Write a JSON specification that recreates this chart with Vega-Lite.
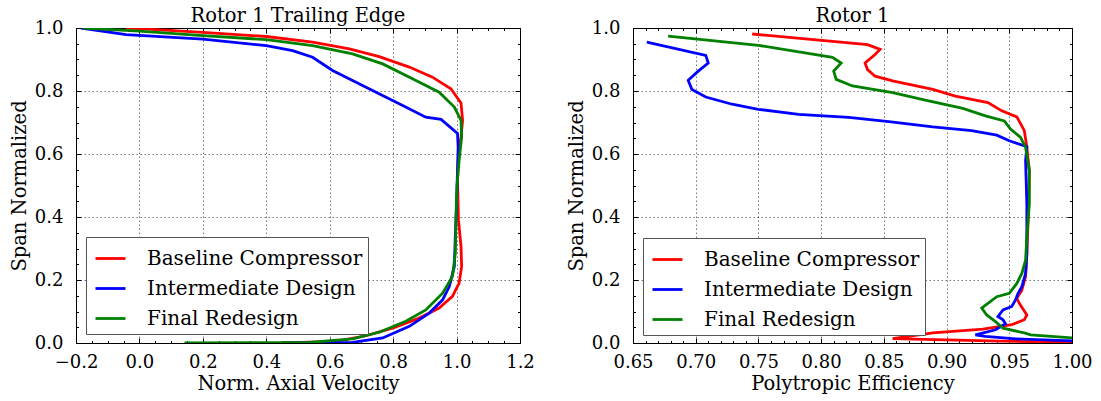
{
  "$schema": "https://vega.github.io/schema/vega-lite/v6.json",
  "background": "white",
  "padding": {"left": 8, "top": 5, "right": 5, "bottom": 5},
  "spacing": 30,
  "config": {
    "font": "DejaVu Serif",
    "view": {"stroke": "black", "strokeWidth": 1},
    "axis": {
      "domain": false,
      "grid": true,
      "gridDash": [1.5, 2.5],
      "gridColor": "black",
      "gridOpacity": 0.6,
      "gridWidth": 0.9,
      "tickColor": "black",
      "tickSize": -5,
      "tickWidth": 1,
      "labelFont": "DejaVu Serif",
      "labelFontSize": 18,
      "labelColor": "black",
      "titleFont": "DejaVu Serif",
      "titleFontSize": 19.5,
      "titleFontWeight": "normal",
      "titleColor": "black",
      "labelOverlap": false,
      "labelFlush": false,
      "labelBound": false
    },
    "title": {"font": "DejaVu Serif", "fontSize": 19.5, "fontWeight": "normal", "color": "black", "offset": -7},
    "legend": {
      "orient": "none",
      "title": null,
      "symbolType": "stroke",
      "symbolSize": 900,
      "symbolStrokeWidth": 2.8,
      "symbolOffset": 3,
      "labelFont": "DejaVu Serif",
      "labelFontSize": 20,
      "labelColor": "black",
      "labelOffset": 20,
      "labelLimit": 400,
      "rowPadding": 3,
      "padding": 5,
      "strokeColor": "#555555",
      "fillColor": "white"
    }
  },
  "resolve": {"scale": {"color": "independent"}, "legend": {"color": "independent"}},
  "datasets": {
    "left": [
      {"s": "Baseline Compressor", "i": 0, "x": -0.043, "y": 1.0},
      {"s": "Baseline Compressor", "i": 1, "x": 0.0, "y": 0.998},
      {"s": "Baseline Compressor", "i": 2, "x": 0.2, "y": 0.986},
      {"s": "Baseline Compressor", "i": 3, "x": 0.4, "y": 0.973},
      {"s": "Baseline Compressor", "i": 4, "x": 0.546, "y": 0.955},
      {"s": "Baseline Compressor", "i": 5, "x": 0.662, "y": 0.934},
      {"s": "Baseline Compressor", "i": 6, "x": 0.756, "y": 0.909},
      {"s": "Baseline Compressor", "i": 7, "x": 0.851, "y": 0.876},
      {"s": "Baseline Compressor", "i": 8, "x": 0.924, "y": 0.844},
      {"s": "Baseline Compressor", "i": 9, "x": 0.982, "y": 0.807},
      {"s": "Baseline Compressor", "i": 10, "x": 1.014, "y": 0.762},
      {"s": "Baseline Compressor", "i": 11, "x": 1.019, "y": 0.707},
      {"s": "Baseline Compressor", "i": 12, "x": 1.014, "y": 0.654},
      {"s": "Baseline Compressor", "i": 13, "x": 1.006, "y": 0.601},
      {"s": "Baseline Compressor", "i": 14, "x": 1.003, "y": 0.517},
      {"s": "Baseline Compressor", "i": 15, "x": 1.006, "y": 0.39},
      {"s": "Baseline Compressor", "i": 16, "x": 1.014, "y": 0.306},
      {"s": "Baseline Compressor", "i": 17, "x": 1.016, "y": 0.243},
      {"s": "Baseline Compressor", "i": 18, "x": 1.008, "y": 0.19},
      {"s": "Baseline Compressor", "i": 19, "x": 0.987, "y": 0.148},
      {"s": "Baseline Compressor", "i": 20, "x": 0.945, "y": 0.111},
      {"s": "Baseline Compressor", "i": 21, "x": 0.882, "y": 0.079},
      {"s": "Baseline Compressor", "i": 22, "x": 0.798, "y": 0.047},
      {"s": "Baseline Compressor", "i": 23, "x": 0.714, "y": 0.023},
      {"s": "Baseline Compressor", "i": 24, "x": 0.62, "y": 0.005},
      {"s": "Baseline Compressor", "i": 25, "x": 0.45, "y": 0.0},
      {"s": "Intermediate Design", "i": 0, "x": -0.184, "y": 1.0},
      {"s": "Intermediate Design", "i": 1, "x": -0.042, "y": 0.979},
      {"s": "Intermediate Design", "i": 2, "x": 0.2, "y": 0.965},
      {"s": "Intermediate Design", "i": 3, "x": 0.4, "y": 0.944},
      {"s": "Intermediate Design", "i": 4, "x": 0.483, "y": 0.928},
      {"s": "Intermediate Design", "i": 5, "x": 0.546, "y": 0.907},
      {"s": "Intermediate Design", "i": 6, "x": 0.609, "y": 0.865},
      {"s": "Intermediate Design", "i": 7, "x": 0.672, "y": 0.833},
      {"s": "Intermediate Design", "i": 8, "x": 0.746, "y": 0.796},
      {"s": "Intermediate Design", "i": 9, "x": 0.83, "y": 0.754},
      {"s": "Intermediate Design", "i": 10, "x": 0.903, "y": 0.717},
      {"s": "Intermediate Design", "i": 11, "x": 0.951, "y": 0.71},
      {"s": "Intermediate Design", "i": 12, "x": 1.003, "y": 0.665},
      {"s": "Intermediate Design", "i": 13, "x": 1.005, "y": 0.622},
      {"s": "Intermediate Design", "i": 14, "x": 1.003, "y": 0.549},
      {"s": "Intermediate Design", "i": 15, "x": 1.0, "y": 0.443},
      {"s": "Intermediate Design", "i": 16, "x": 0.996, "y": 0.338},
      {"s": "Intermediate Design", "i": 17, "x": 0.993, "y": 0.243},
      {"s": "Intermediate Design", "i": 18, "x": 0.977, "y": 0.179},
      {"s": "Intermediate Design", "i": 19, "x": 0.956, "y": 0.137},
      {"s": "Intermediate Design", "i": 20, "x": 0.914, "y": 0.095},
      {"s": "Intermediate Design", "i": 21, "x": 0.851, "y": 0.053},
      {"s": "Intermediate Design", "i": 22, "x": 0.767, "y": 0.016},
      {"s": "Intermediate Design", "i": 23, "x": 0.672, "y": 0.002},
      {"s": "Intermediate Design", "i": 24, "x": 0.45, "y": 0.0},
      {"s": "Final Redesign", "i": 0, "x": -0.179, "y": 1.0},
      {"s": "Final Redesign", "i": 1, "x": 0.0, "y": 0.99},
      {"s": "Final Redesign", "i": 2, "x": 0.2, "y": 0.976},
      {"s": "Final Redesign", "i": 3, "x": 0.4, "y": 0.963},
      {"s": "Final Redesign", "i": 4, "x": 0.546, "y": 0.944},
      {"s": "Final Redesign", "i": 5, "x": 0.672, "y": 0.918},
      {"s": "Final Redesign", "i": 6, "x": 0.767, "y": 0.886},
      {"s": "Final Redesign", "i": 7, "x": 0.861, "y": 0.839},
      {"s": "Final Redesign", "i": 8, "x": 0.945, "y": 0.796},
      {"s": "Final Redesign", "i": 9, "x": 0.993, "y": 0.749},
      {"s": "Final Redesign", "i": 10, "x": 1.014, "y": 0.707},
      {"s": "Final Redesign", "i": 11, "x": 1.016, "y": 0.654},
      {"s": "Final Redesign", "i": 12, "x": 1.008, "y": 0.58},
      {"s": "Final Redesign", "i": 13, "x": 1.001, "y": 0.496},
      {"s": "Final Redesign", "i": 14, "x": 0.998, "y": 0.39},
      {"s": "Final Redesign", "i": 15, "x": 0.996, "y": 0.285},
      {"s": "Final Redesign", "i": 16, "x": 0.987, "y": 0.211},
      {"s": "Final Redesign", "i": 17, "x": 0.956, "y": 0.158},
      {"s": "Final Redesign", "i": 18, "x": 0.903, "y": 0.105},
      {"s": "Final Redesign", "i": 19, "x": 0.84, "y": 0.069},
      {"s": "Final Redesign", "i": 20, "x": 0.756, "y": 0.034},
      {"s": "Final Redesign", "i": 21, "x": 0.672, "y": 0.013},
      {"s": "Final Redesign", "i": 22, "x": 0.536, "y": 0.002},
      {"s": "Final Redesign", "i": 23, "x": 0.142, "y": 0.0}
    ],
    "right": [
      {"s": "Baseline Compressor", "i": 0, "x": 0.745, "y": 0.981},
      {"s": "Baseline Compressor", "i": 1, "x": 0.837, "y": 0.947},
      {"s": "Baseline Compressor", "i": 2, "x": 0.847, "y": 0.932},
      {"s": "Baseline Compressor", "i": 3, "x": 0.843, "y": 0.916},
      {"s": "Baseline Compressor", "i": 4, "x": 0.835, "y": 0.889},
      {"s": "Baseline Compressor", "i": 5, "x": 0.837, "y": 0.868},
      {"s": "Baseline Compressor", "i": 6, "x": 0.843, "y": 0.847},
      {"s": "Baseline Compressor", "i": 7, "x": 0.857, "y": 0.832},
      {"s": "Baseline Compressor", "i": 8, "x": 0.889, "y": 0.805},
      {"s": "Baseline Compressor", "i": 9, "x": 0.907, "y": 0.784},
      {"s": "Baseline Compressor", "i": 10, "x": 0.933, "y": 0.763},
      {"s": "Baseline Compressor", "i": 11, "x": 0.944, "y": 0.737},
      {"s": "Baseline Compressor", "i": 12, "x": 0.956, "y": 0.718},
      {"s": "Baseline Compressor", "i": 13, "x": 0.962, "y": 0.674},
      {"s": "Baseline Compressor", "i": 14, "x": 0.964, "y": 0.621},
      {"s": "Baseline Compressor", "i": 15, "x": 0.966, "y": 0.547},
      {"s": "Baseline Compressor", "i": 16, "x": 0.965, "y": 0.389},
      {"s": "Baseline Compressor", "i": 17, "x": 0.964, "y": 0.284},
      {"s": "Baseline Compressor", "i": 18, "x": 0.963, "y": 0.211},
      {"s": "Baseline Compressor", "i": 19, "x": 0.96, "y": 0.168},
      {"s": "Baseline Compressor", "i": 20, "x": 0.956, "y": 0.142},
      {"s": "Baseline Compressor", "i": 21, "x": 0.958, "y": 0.126},
      {"s": "Baseline Compressor", "i": 22, "x": 0.964, "y": 0.089},
      {"s": "Baseline Compressor", "i": 23, "x": 0.962, "y": 0.074},
      {"s": "Baseline Compressor", "i": 24, "x": 0.952, "y": 0.058},
      {"s": "Baseline Compressor", "i": 25, "x": 0.929, "y": 0.044},
      {"s": "Baseline Compressor", "i": 26, "x": 0.889, "y": 0.032},
      {"s": "Baseline Compressor", "i": 27, "x": 0.857, "y": 0.014},
      {"s": "Baseline Compressor", "i": 28, "x": 0.942, "y": 0.006},
      {"s": "Baseline Compressor", "i": 29, "x": 1.0, "y": 0.002},
      {"s": "Intermediate Design", "i": 0, "x": 0.661, "y": 0.955},
      {"s": "Intermediate Design", "i": 1, "x": 0.708, "y": 0.913},
      {"s": "Intermediate Design", "i": 2, "x": 0.71, "y": 0.889},
      {"s": "Intermediate Design", "i": 3, "x": 0.702, "y": 0.863},
      {"s": "Intermediate Design", "i": 4, "x": 0.694, "y": 0.834},
      {"s": "Intermediate Design", "i": 5, "x": 0.697, "y": 0.805},
      {"s": "Intermediate Design", "i": 6, "x": 0.708, "y": 0.781},
      {"s": "Intermediate Design", "i": 7, "x": 0.729, "y": 0.758},
      {"s": "Intermediate Design", "i": 8, "x": 0.75, "y": 0.742},
      {"s": "Intermediate Design", "i": 9, "x": 0.782, "y": 0.726},
      {"s": "Intermediate Design", "i": 10, "x": 0.822, "y": 0.716},
      {"s": "Intermediate Design", "i": 11, "x": 0.854, "y": 0.703},
      {"s": "Intermediate Design", "i": 12, "x": 0.889, "y": 0.686},
      {"s": "Intermediate Design", "i": 13, "x": 0.92, "y": 0.674},
      {"s": "Intermediate Design", "i": 14, "x": 0.94, "y": 0.66},
      {"s": "Intermediate Design", "i": 15, "x": 0.95, "y": 0.642},
      {"s": "Intermediate Design", "i": 16, "x": 0.964, "y": 0.623},
      {"s": "Intermediate Design", "i": 17, "x": 0.963, "y": 0.579},
      {"s": "Intermediate Design", "i": 18, "x": 0.964, "y": 0.442},
      {"s": "Intermediate Design", "i": 19, "x": 0.964, "y": 0.284},
      {"s": "Intermediate Design", "i": 20, "x": 0.963, "y": 0.221},
      {"s": "Intermediate Design", "i": 21, "x": 0.96, "y": 0.179},
      {"s": "Intermediate Design", "i": 22, "x": 0.957, "y": 0.158},
      {"s": "Intermediate Design", "i": 23, "x": 0.955, "y": 0.137},
      {"s": "Intermediate Design", "i": 24, "x": 0.952, "y": 0.116},
      {"s": "Intermediate Design", "i": 25, "x": 0.945, "y": 0.105},
      {"s": "Intermediate Design", "i": 26, "x": 0.941, "y": 0.084},
      {"s": "Intermediate Design", "i": 27, "x": 0.945, "y": 0.074},
      {"s": "Intermediate Design", "i": 28, "x": 0.947, "y": 0.061},
      {"s": "Intermediate Design", "i": 29, "x": 0.939, "y": 0.042},
      {"s": "Intermediate Design", "i": 30, "x": 0.923, "y": 0.026},
      {"s": "Intermediate Design", "i": 31, "x": 0.931, "y": 0.021},
      {"s": "Intermediate Design", "i": 32, "x": 0.955, "y": 0.013},
      {"s": "Intermediate Design", "i": 33, "x": 1.0, "y": 0.007},
      {"s": "Final Redesign", "i": 0, "x": 0.678, "y": 0.974},
      {"s": "Final Redesign", "i": 1, "x": 0.75, "y": 0.945},
      {"s": "Final Redesign", "i": 2, "x": 0.809, "y": 0.907},
      {"s": "Final Redesign", "i": 3, "x": 0.816, "y": 0.889},
      {"s": "Final Redesign", "i": 4, "x": 0.81, "y": 0.863},
      {"s": "Final Redesign", "i": 5, "x": 0.812, "y": 0.837},
      {"s": "Final Redesign", "i": 6, "x": 0.825, "y": 0.816},
      {"s": "Final Redesign", "i": 7, "x": 0.857, "y": 0.795},
      {"s": "Final Redesign", "i": 8, "x": 0.883, "y": 0.771},
      {"s": "Final Redesign", "i": 9, "x": 0.913, "y": 0.745},
      {"s": "Final Redesign", "i": 10, "x": 0.931, "y": 0.721},
      {"s": "Final Redesign", "i": 11, "x": 0.946, "y": 0.705},
      {"s": "Final Redesign", "i": 12, "x": 0.951, "y": 0.679},
      {"s": "Final Redesign", "i": 13, "x": 0.959, "y": 0.653},
      {"s": "Final Redesign", "i": 14, "x": 0.963, "y": 0.621},
      {"s": "Final Redesign", "i": 15, "x": 0.966, "y": 0.547},
      {"s": "Final Redesign", "i": 16, "x": 0.966, "y": 0.442},
      {"s": "Final Redesign", "i": 17, "x": 0.964, "y": 0.337},
      {"s": "Final Redesign", "i": 18, "x": 0.963, "y": 0.263},
      {"s": "Final Redesign", "i": 19, "x": 0.96, "y": 0.221},
      {"s": "Final Redesign", "i": 20, "x": 0.956, "y": 0.189},
      {"s": "Final Redesign", "i": 21, "x": 0.95, "y": 0.158},
      {"s": "Final Redesign", "i": 22, "x": 0.94, "y": 0.147},
      {"s": "Final Redesign", "i": 23, "x": 0.928, "y": 0.111},
      {"s": "Final Redesign", "i": 24, "x": 0.932, "y": 0.089},
      {"s": "Final Redesign", "i": 25, "x": 0.939, "y": 0.068},
      {"s": "Final Redesign", "i": 26, "x": 0.945, "y": 0.047},
      {"s": "Final Redesign", "i": 27, "x": 0.962, "y": 0.032},
      {"s": "Final Redesign", "i": 28, "x": 0.967, "y": 0.026},
      {"s": "Final Redesign", "i": 29, "x": 1.0, "y": 0.016}
    ]
  },
  "hconcat": [
    {
      "width": 444,
      "height": 315,
      "title": "Rotor 1 Trailing Edge",
      "data": {"name": "left"},
      "layer": [
        {
          "mark": {"type": "line", "strokeWidth": 2.8, "clip": true},
          "encoding": {
            "x": {"field": "x", "type": "quantitative", "scale": {"domain": [-0.2, 1.2], "nice": false, "zero": false},
              "axis": {"title": "Norm. Axial Velocity", "values": [-0.2, 0, 0.2, 0.4, 0.6, 0.8, 1.0, 1.2], "format": ".1f", "labelPadding": 15, "titlePadding": 3}},
            "y": {"field": "y", "type": "quantitative", "scale": {"domain": [0, 1], "nice": false, "zero": false},
              "axis": {"title": "Span Normalized", "values": [0, 0.2, 0.4, 0.6, 0.8, 1.0], "format": ".1f", "labelPadding": 18, "titlePadding": 5}},
            "color": {"field": "s", "type": "nominal",
              "scale": {"domain": ["Baseline Compressor", "Intermediate Design", "Final Redesign"], "range": ["#ff0000", "#0000ff", "#008000"]},
              "legend": {"legendX": 10, "legendY": 209}},
            "order": {"field": "i", "type": "quantitative"}
          }
        },
        {
          "mark": {"type": "point", "opacity": 0, "clip": true},
          "encoding": {
            "x": {"field": "x", "type": "quantitative", "axis": {"orient": "top", "labels": false, "grid": false, "title": null, "minExtent": 0, "values": [-0.2, 0, 0.2, 0.4, 0.6, 0.8, 1.0, 1.2]}},
            "y": {"field": "y", "type": "quantitative", "axis": {"orient": "right", "labels": false, "grid": false, "title": null, "minExtent": 0, "values": [0, 0.2, 0.4, 0.6, 0.8, 1.0]}}
          }
        },
        {
          "mark": {"type": "point", "opacity": 0, "clip": true},
          "encoding": {
            "x": {"field": "x", "type": "quantitative", "axis": {"orient": "bottom", "labels": false, "grid": false, "title": null, "minExtent": 0, "tickSize": -2.5,
              "values": [-0.2, -0.15, -0.1, -0.05, 0, 0.05, 0.1, 0.15, 0.2, 0.25, 0.3, 0.35, 0.4, 0.45, 0.5, 0.55, 0.6, 0.65, 0.7, 0.75, 0.8, 0.85, 0.9, 0.95, 1.0, 1.05, 1.1, 1.15, 1.2]}},
            "y": {"field": "y", "type": "quantitative", "axis": {"orient": "left", "labels": false, "grid": false, "title": null, "minExtent": 0, "tickSize": -2.5,
              "values": [0, 0.05, 0.1, 0.15, 0.2, 0.25, 0.3, 0.35, 0.4, 0.45, 0.5, 0.55, 0.6, 0.65, 0.7, 0.75, 0.8, 0.85, 0.9, 0.95, 1.0]}}
          }
        },
        {
          "mark": {"type": "point", "opacity": 0, "clip": true},
          "encoding": {
            "x": {"field": "x", "type": "quantitative", "axis": {"orient": "top", "labels": false, "grid": false, "title": null, "minExtent": 0, "tickSize": -2.5,
              "values": [-0.2, -0.15, -0.1, -0.05, 0, 0.05, 0.1, 0.15, 0.2, 0.25, 0.3, 0.35, 0.4, 0.45, 0.5, 0.55, 0.6, 0.65, 0.7, 0.75, 0.8, 0.85, 0.9, 0.95, 1.0, 1.05, 1.1, 1.15, 1.2]}},
            "y": {"field": "y", "type": "quantitative", "axis": {"orient": "right", "labels": false, "grid": false, "title": null, "minExtent": 0, "tickSize": -2.5,
              "values": [0, 0.05, 0.1, 0.15, 0.2, 0.25, 0.3, 0.35, 0.4, 0.45, 0.5, 0.55, 0.6, 0.65, 0.7, 0.75, 0.8, 0.85, 0.9, 0.95, 1.0]}}
          }
        }
      ],
      "resolve": {"axis": {"x": "independent", "y": "independent"}}
    },
    {
      "width": 439,
      "height": 315,
      "title": "Rotor 1",
      "data": {"name": "right"},
      "layer": [
        {
          "mark": {"type": "line", "strokeWidth": 2.8, "clip": true},
          "encoding": {
            "x": {"field": "x", "type": "quantitative", "scale": {"domain": [0.65, 1.0], "nice": false, "zero": false},
              "axis": {"title": "Polytropic Efficiency", "values": [0.65, 0.7, 0.75, 0.8, 0.85, 0.9, 0.95, 1.0], "format": ".2f", "labelPadding": 15, "titlePadding": 3}},
            "y": {"field": "y", "type": "quantitative", "scale": {"domain": [0, 1], "nice": false, "zero": false},
              "axis": {"title": "Span Normalized", "values": [0, 0.2, 0.4, 0.6, 0.8, 1.0], "format": ".1f", "labelPadding": 18, "titlePadding": 5}},
            "color": {"field": "s", "type": "nominal",
              "scale": {"domain": ["Baseline Compressor", "Intermediate Design", "Final Redesign"], "range": ["#ff0000", "#0000ff", "#008000"]},
              "legend": {"legendX": 10, "legendY": 210}},
            "order": {"field": "i", "type": "quantitative"}
          }
        },
        {
          "mark": {"type": "point", "opacity": 0, "clip": true},
          "encoding": {
            "x": {"field": "x", "type": "quantitative", "axis": {"orient": "top", "labels": false, "grid": false, "title": null, "minExtent": 0, "values": [0.65, 0.7, 0.75, 0.8, 0.85, 0.9, 0.95, 1.0]}},
            "y": {"field": "y", "type": "quantitative", "axis": {"orient": "right", "labels": false, "grid": false, "title": null, "minExtent": 0, "values": [0, 0.2, 0.4, 0.6, 0.8, 1.0]}}
          }
        },
        {
          "mark": {"type": "point", "opacity": 0, "clip": true},
          "encoding": {
            "x": {"field": "x", "type": "quantitative", "axis": {"orient": "bottom", "labels": false, "grid": false, "title": null, "minExtent": 0, "tickSize": -2.5,
              "values": [0.65, 0.66, 0.67, 0.68, 0.69, 0.7, 0.71, 0.72, 0.73, 0.74, 0.75, 0.76, 0.77, 0.78, 0.79, 0.8, 0.81, 0.82, 0.83, 0.84, 0.85, 0.86, 0.87, 0.88, 0.89, 0.9, 0.91, 0.92, 0.93, 0.94, 0.95, 0.96, 0.97, 0.98, 0.99, 1.0]}},
            "y": {"field": "y", "type": "quantitative", "axis": {"orient": "left", "labels": false, "grid": false, "title": null, "minExtent": 0, "tickSize": -2.5,
              "values": [0, 0.05, 0.1, 0.15, 0.2, 0.25, 0.3, 0.35, 0.4, 0.45, 0.5, 0.55, 0.6, 0.65, 0.7, 0.75, 0.8, 0.85, 0.9, 0.95, 1.0]}}
          }
        },
        {
          "mark": {"type": "point", "opacity": 0, "clip": true},
          "encoding": {
            "x": {"field": "x", "type": "quantitative", "axis": {"orient": "top", "labels": false, "grid": false, "title": null, "minExtent": 0, "tickSize": -2.5,
              "values": [0.65, 0.66, 0.67, 0.68, 0.69, 0.7, 0.71, 0.72, 0.73, 0.74, 0.75, 0.76, 0.77, 0.78, 0.79, 0.8, 0.81, 0.82, 0.83, 0.84, 0.85, 0.86, 0.87, 0.88, 0.89, 0.9, 0.91, 0.92, 0.93, 0.94, 0.95, 0.96, 0.97, 0.98, 0.99, 1.0]}},
            "y": {"field": "y", "type": "quantitative", "axis": {"orient": "right", "labels": false, "grid": false, "title": null, "minExtent": 0, "tickSize": -2.5,
              "values": [0, 0.05, 0.1, 0.15, 0.2, 0.25, 0.3, 0.35, 0.4, 0.45, 0.5, 0.55, 0.6, 0.65, 0.7, 0.75, 0.8, 0.85, 0.9, 0.95, 1.0]}}
          }
        }
      ],
      "resolve": {"axis": {"x": "independent", "y": "independent"}}
    }
  ]
}
